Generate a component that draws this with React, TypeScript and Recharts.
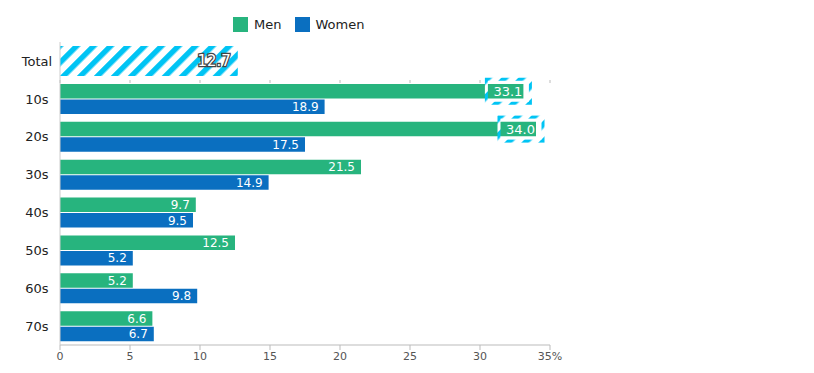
import { BarChart, Bar, XAxis, YAxis, LabelList } from 'recharts';

const categories = ['10s', '20s', '30s', '40s', '50s', '60s', '70s'];
const menValues = [33.1, 34.0, 21.5, 9.7, 12.5, 5.2, 6.6];
const womenValues = [18.9, 17.5, 14.9, 9.5, 5.2, 9.8, 6.7];
const totalCategory = 'Total';
const totalValue = 12.7;
const highlightedCategories = ['10s', '20s'];
const xTicks = [0, 5, 10, 15, 20, 25, 30, 35];

const MEN = '#27b47e';
const WOMEN = '#0a6fc0';
const HATCH = '#00c4f4';
const FONT = '"DejaVu Sans", Verdana, sans-serif';

const mainData = categories.map((name, i) => ({
  name,
  men: menValues[i],
  women: womenValues[i],
}));
const totalData = [{ name: totalCategory, total: totalValue }];

const fmt = (v: number) => v.toFixed(1);

function MenLabel(props: any) {
  const { x, y, width, height, value, index } = props;
  const hl = highlightedCategories.includes(categories[index]);
  const end = x + width;
  const cy = y + height / 2;
  if (hl) {
    return (
      <g>
        <rect
          x={end - 37}
          y={cy - 12}
          width={44}
          height={24}
          fill="none"
          stroke="url(#hatch)"
          strokeWidth={3}
        />
        <text x={end - 1} y={cy} dy="0.36em" textAnchor="end" fill="#fff" fontSize={13} fontFamily={FONT}>
          {fmt(value)}
        </text>
      </g>
    );
  }
  return (
    <text x={end - 6} y={cy} dy="0.36em" textAnchor="end" fill="#fff" fontSize={12} fontFamily={FONT}>
      {fmt(value)}
    </text>
  );
}

function WomenLabel(props: any) {
  const { x, y, width, height, value } = props;
  return (
    <text x={x + width - 6} y={y + height / 2} dy="0.36em" textAnchor="end" fill="#fff" fontSize={12} fontFamily={FONT}>
      {fmt(value)}
    </text>
  );
}

function TotalLabel(props: any) {
  const { x, y, width, height, value } = props;
  return (
    <text
      x={x + width - 7}
      y={y + height / 2}
      dy="0.36em"
      textAnchor="end"
      fill="#fff"
      stroke="#444"
      strokeWidth={2.5}
      paintOrder="stroke"
      fontSize={15}
      fontFamily={FONT}
    >
      {fmt(value)}
    </text>
  );
}

const yTick = { fontSize: 13, fill: '#222', fontFamily: FONT, textAnchor: 'middle' };

export default function App() {
  return (
    <div style={{ position: 'absolute', left: 0, top: 0, width: 814, height: 373, background: '#fff', fontFamily: FONT }}>
      <svg width={0} height={0} style={{ position: 'absolute' }}>
        <defs>
          <pattern id="hatch" patternUnits="userSpaceOnUse" width={12} height={12} patternTransform="rotate(45)">
            <rect x={0} y={0} width={12} height={12} fill="#fff" />
            <rect x={0} y={0} width={5.5} height={12} fill={HATCH} />
          </pattern>
        </defs>
      </svg>

      <div style={{ position: 'absolute', left: 233, top: 17, display: 'flex', alignItems: 'center', fontSize: 13, color: '#222' }}>
        <span style={{ width: 15, height: 15, background: MEN, display: 'inline-block', marginRight: 6 }} />
        <span style={{ marginRight: 14 }}>Men</span>
        <span style={{ width: 15, height: 15, background: WOMEN, display: 'inline-block', marginRight: 5 }} />
        <span>Women</span>
      </div>

      <div style={{ position: 'absolute', left: 0, top: 0 }}>
        <BarChart
          width={814}
          height={84}
          data={totalData}
          layout="vertical"
          margin={{ top: 42, right: 264, bottom: 0, left: 0 }}
        >
          <XAxis
            type="number"
            domain={[0, 35]}
            ticks={xTicks}
            height={4}
            axisLine={false}
            tickLine={{ stroke: '#bbb' }}
            tickSize={3}
            tickFormatter={() => ''}
          />
          <YAxis
            type="category"
            dataKey="name"
            width={60}
            tickLine={false}
            tickSize={0}
            tickMargin={23}
            axisLine={{ stroke: '#ccc' }}
            tick={yTick}
          />
          <Bar dataKey="total" barSize={30} fill="url(#hatch)" isAnimationActive={false}>
            <LabelList dataKey="total" content={TotalLabel} />
          </Bar>
        </BarChart>
      </div>

      <div style={{ position: 'absolute', left: 0, top: 70 }}>
        <BarChart
          width={814}
          height={305}
          data={mainData}
          layout="vertical"
          barGap={1}
          margin={{ top: 10, right: 264, bottom: 0, left: 0 }}
        >
          <XAxis
            type="number"
            domain={[0, 35]}
            ticks={xTicks}
            height={30}
            axisLine={{ stroke: '#bbb' }}
            tickLine={{ stroke: '#bbb' }}
            tickSize={5}
            tickMargin={2}
            tick={{ fontSize: 11, fill: '#555', fontFamily: FONT }}
            tickFormatter={(v: number) => (v === 35 ? '35%' : String(v))}
          />
          <YAxis
            type="category"
            dataKey="name"
            width={60}
            tickLine={false}
            tickSize={0}
            tickMargin={23}
            axisLine={{ stroke: '#ccc' }}
            tick={yTick}
          />
          <Bar dataKey="men" barSize={14.5} fill={MEN} isAnimationActive={false}>
            <LabelList dataKey="men" content={MenLabel} />
          </Bar>
          <Bar dataKey="women" barSize={14.5} fill={WOMEN} isAnimationActive={false}>
            <LabelList dataKey="women" content={WomenLabel} />
          </Bar>
        </BarChart>
      </div>
    </div>
  );
}
